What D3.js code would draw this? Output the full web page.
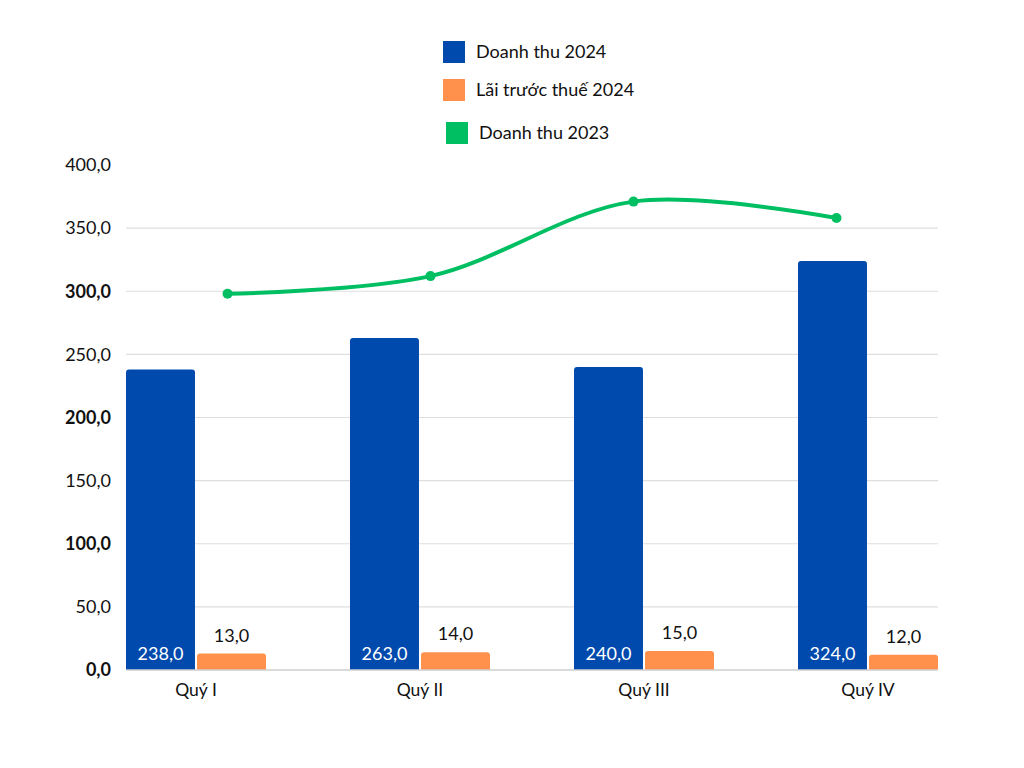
<!DOCTYPE html>
<html><head><meta charset="utf-8">
<script src="https://cdn.jsdelivr.net/npm/d3@7"></script>
<style>body{margin:0;background:#fff;}svg{display:block;font-family:Lato,"Open Sans",sans-serif;}</style>
</head><body>
<svg id="c" width="1024" height="768"></svg>
<script>
const categories = ["Quý I", "Quý II", "Quý III", "Quý IV"];
const revenue2024 = [238, 263, 240, 324];
const profit2024 = [13, 14, 15, 12];
const revenue2023 = [298, 312, 371, 358];
const yTicks = [0, 50, 100, 150, 200, 250, 300, 350, 400];
const boldTicks = [0, 100, 200, 300];
const seriesNames = ["Doanh thu 2024", "Lãi trước thuế 2024", "Doanh thu 2023"];
const colors = ["#004aad", "#ff914d", "#00bf63"];

(function () {
const fmt = v => d3.format(".1f")(v).replace(".", ",");
const svg = d3.select("#c");
const pL = 126, pR = 938, pT = 165, pB = 670;

const y = d3.scaleLinear().domain([0, 400]).range([pB, pT]);
const x0 = d3.scaleBand().domain(categories).range([pL, pR]).paddingInner(0.375).paddingOuter(0);
const x1 = d3.scaleBand().domain([0, 1]).range([0, x0.bandwidth()]).paddingInner(0.0286);
const xp = d3.scalePoint().domain(categories).range([pL, pR]).padding(0.5);

svg.append("g").selectAll("line").data(yTicks.filter(t => t > 0 && t < 400)).join("line")
  .attr("x1", pL).attr("x2", pR).attr("y1", d => y(d)).attr("y2", d => y(d))
  .attr("stroke", "#dedede").attr("stroke-width", 1.2);

svg.append("g").selectAll("text").data(yTicks).join("text")
  .attr("x", 111).attr("y", d => y(d)).attr("dy", "0.35em").attr("text-anchor", "end")
  .attr("font-size", 18).attr("fill", "#111")
  .attr("font-weight", d => boldTicks.includes(d) ? "bold" : "normal")
  .text(d => fmt(d));

function roundTop(xx, yy, w, h, r) {
  r = Math.min(r, h);
  return `M${xx},${yy + h}V${yy + r}Q${xx},${yy} ${xx + r},${yy}H${xx + w - r}Q${xx + w},${yy} ${xx + w},${yy + r}V${yy + h}Z`;
}

const groups = svg.append("g").selectAll("g").data(categories).join("g")
  .attr("transform", d => `translate(${x0(d)},0)`);

groups.append("path").attr("fill", colors[0])
  .attr("d", (d, i) => roundTop(x1(0), y(revenue2024[i]), x1.bandwidth(), pB - y(revenue2024[i]), 3));
groups.append("path").attr("fill", colors[1])
  .attr("d", (d, i) => roundTop(x1(1), y(profit2024[i]), x1.bandwidth(), pB - y(profit2024[i]), 3));

groups.append("text").attr("x", x1(0) + x1.bandwidth() / 2).attr("y", pB - 10)
  .attr("text-anchor", "middle").attr("font-size", 18).attr("fill", "#fff")
  .text((d, i) => fmt(revenue2024[i]));
groups.append("text").attr("x", x1(1) + x1.bandwidth() / 2).attr("y", (d, i) => y(profit2024[i]) - 12)
  .attr("text-anchor", "middle").attr("font-size", 18).attr("fill", "#111")
  .text((d, i) => fmt(profit2024[i]));

svg.append("line").attr("x1", pL).attr("x2", pR).attr("y1", pB).attr("y2", pB)
  .attr("stroke", "#cfcfcf").attr("stroke-width", 1.5);

svg.append("g").selectAll("text").data(categories).join("text")
  .attr("x", d => x0(d) + x0.bandwidth() / 2).attr("y", 690).attr("dy", "0.35em")
  .attr("text-anchor", "middle").attr("font-size", 17.5).attr("fill", "#111").text(d => d);

const line = d3.line().x((d, i) => xp(categories[i])).y(d => y(d)).curve(d3.curveCatmullRom.alpha(0.5));
svg.append("path").datum(revenue2023).attr("d", line).attr("fill", "none")
  .attr("stroke", colors[2]).attr("stroke-width", 4);
svg.append("g").selectAll("circle").data(revenue2023).join("circle")
  .attr("cx", (d, i) => xp(categories[i])).attr("cy", d => y(d)).attr("r", 5).attr("fill", colors[2]);

const legY = [52, 90, 133];
const legX = [443, 443, 446];
const leg = svg.append("g").selectAll("g").data(seriesNames).join("g");
leg.append("rect").attr("x", (d, i) => legX[i]).attr("y", (d, i) => legY[i] - 11)
  .attr("width", 22).attr("height", 22).attr("fill", (d, i) => colors[i]);
leg.append("text").attr("x", (d, i) => legX[i] + 33).attr("y", (d, i) => legY[i]).attr("dy", "0.35em")
  .attr("font-size", 18).attr("fill", "#111").text(d => d);
})();
</script>
</body></html>
